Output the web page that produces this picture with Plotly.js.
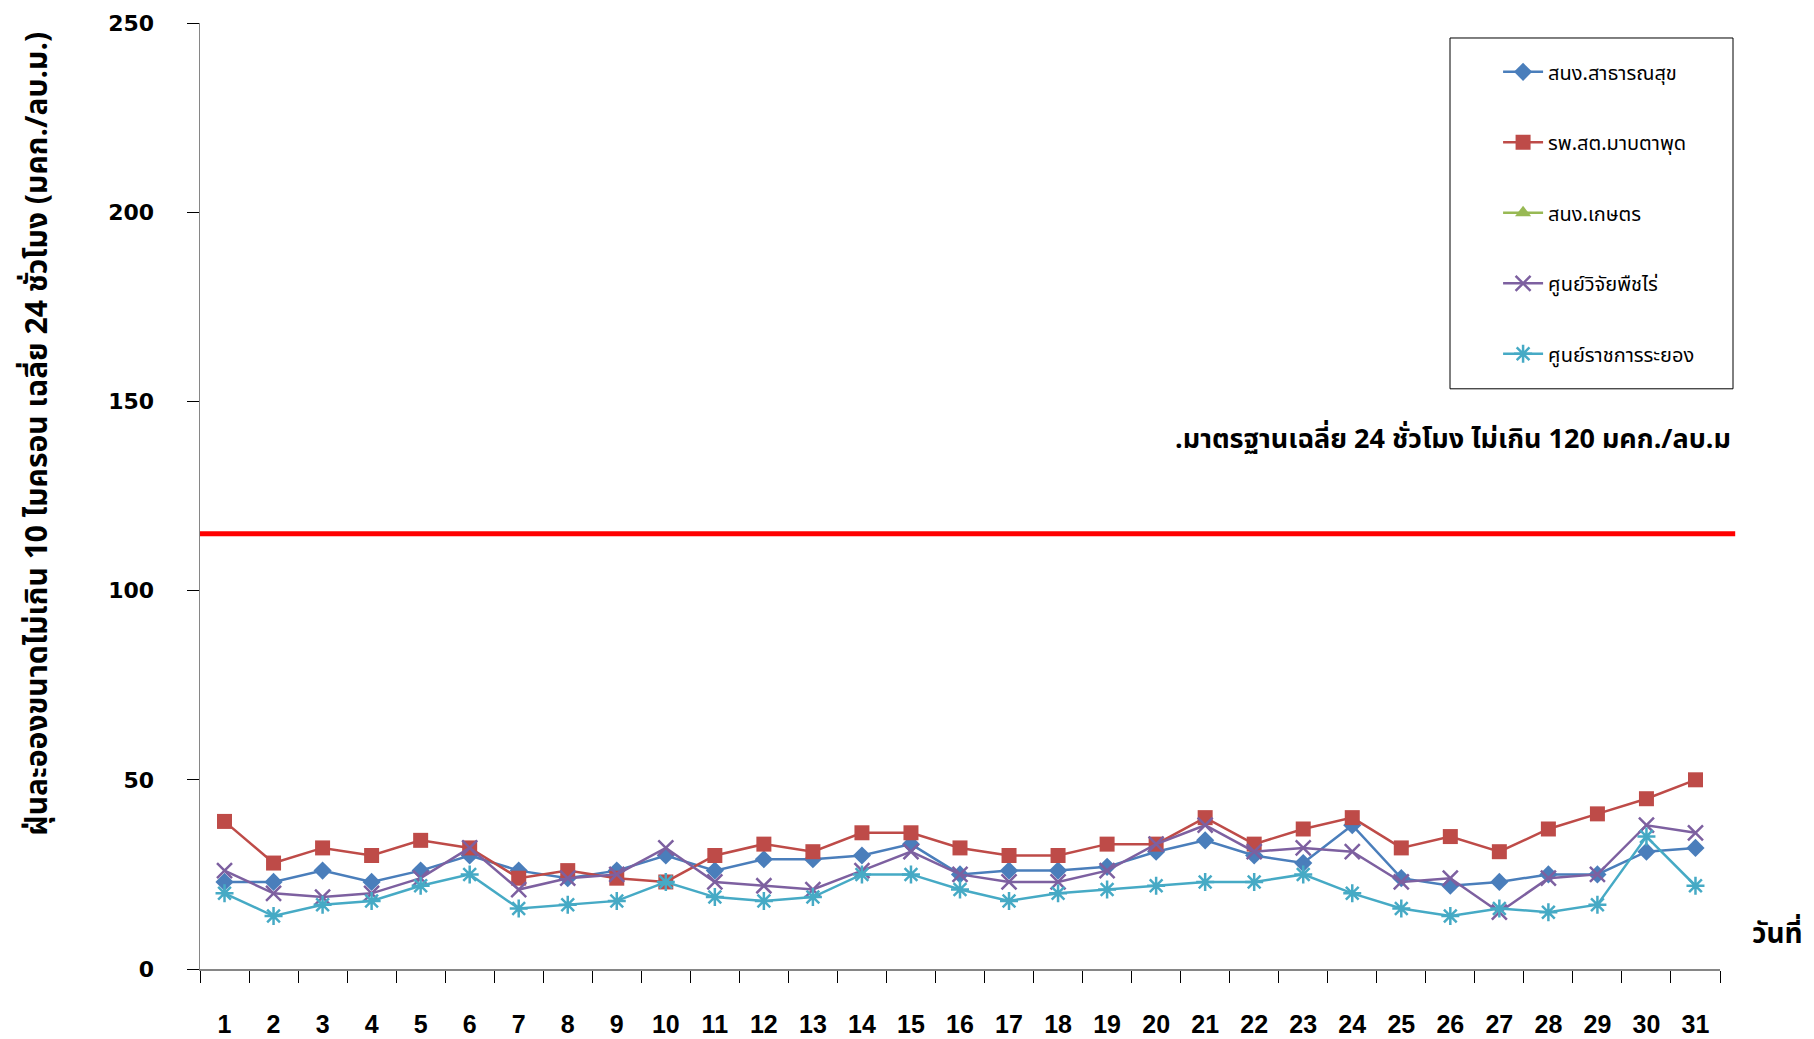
<!DOCTYPE html>
<html>
<head>
<meta charset="utf-8">
<script src="https://cdn.plot.ly/plotly-3.0.1.min.js"></script>
<style>html,body{margin:0;padding:0;background:#fff;}#chart{width:1814px;height:1039px;}</style>
</head>
<body>
<div id="chart"></div>
<script>
const days = ["1","2","3","4","5","6","7","8","9","10","11","12","13","14","15","16","17","18","19","20","21","22","23","24","25","26","27","28","29","30","31"];
const seriesNames = ["สนง.สาธารณสุข","รพ.สต.มาบตาพุด","สนง.เกษตร","ศูนย์วิจัยพืชไร่","ศูนย์ราชการระยอง"];
const healthOffice = [23,23,26,23,26,30,26,24,26,30,26,29,29,30,33,25,26,26,27,31,34,30,28,38,24,22,23,25,25,31,32];
const mapTaPhut = [39,28,32,30,34,32,24,26,24,23,30,33,31,36,36,32,30,30,33,33,40,33,37,40,32,35,31,37,41,45,50];
const agriOffice = [null,null,null,null,null,null,null,null,null,null,null,null,null,null,null,null,null,null,null,null,null,null,null,null,null,null,null,null,null,null,null];
const fieldCropCenter = [26,20,19,20,24,32,21,24,25,32,23,22,21,26,31,25,23,23,26,33,38,31,32,31,23,24,15,24,25,38,36];
const rayongGovCenter = [20,14,17,18,22,25,16,17,18,23,19,18,19,25,25,21,18,20,21,22,23,23,25,20,16,14,16,15,17,35,22];
const standardValue = 115;
const yTitle = "ฝุ่นละอองขนาดไม่เกิน 10 ไมครอน เฉลี่ย 24 ชั่วโมง (มคก./ลบ.ม.)";
const xTitle = "วันที่";
const standardLabel = ".มาตรฐานเฉลี่ย 24 ชั่วโมง ไม่เกิน 120 มคก./ลบ.ม";

const colors = ["#4A7EBB","#BE4B48","#98B954","#7D60A0","#46AAC5"];
const symbols = ["diamond","square","triangle-up","x-thin-open","asterisk-open"];
const sizes = [14,15,14,15,15];
const values = [healthOffice, mapTaPhut, agriOffice, fieldCropCenter, rayongGovCenter];
const thaiFont = "Noto Sans Thai, Tahoma, Loma, Garuda, sans-serif";

const traces = values.map((v,i)=>({
  type:"scatter", mode:"lines+markers", x:days, y:v, name:seriesNames[i],
  legendgroup:"g"+i,
  line:{color:colors[i], width:2.5},
  marker:{symbol:symbols[i], size:sizes[i], color:colors[i], line:{color:colors[i], width:(i>=3?2.5:0)}}
}));

const layout = {
  width:1814, height:1039,
  margin:{l:200, r:94, t:23, b:70},
  paper_bgcolor:"#fff", plot_bgcolor:"#fff",
  showlegend:true,
  legend:{x:0.854, y:0.969, xanchor:"left", yanchor:"top", bgcolor:"rgba(0,0,0,0)", borderwidth:0,
          font:{family:thaiFont, size:20, color:"#000"}, tracegroupgap:41.5, itemwidth:40},
  xaxis:{type:"category", range:[-0.5,30.5], showgrid:false, zeroline:false,
         showline:true, linecolor:"#868686", linewidth:1.5,
         ticks:"outside", tickson:"boundaries", ticklen:12, tickcolor:"#000", tickwidth:1,
         ticklabelstandoff:32,
         tickfont:{family:"Liberation Sans, Arial, sans-serif", size:25, color:"#000", weight:"bold"}},
  yaxis:{range:[0,250], dtick:50, showgrid:false, zeroline:false,
         showline:true, linecolor:"#868686", linewidth:1.5,
         ticks:"outside", ticklen:12, tickcolor:"#000", tickwidth:1,
         ticklabelstandoff:28,
         tickfont:{family:"DejaVu Sans, sans-serif", size:22, color:"#000", weight:"bold"}},
  shapes:[
    {type:"line", xref:"paper", yref:"y", x0:0, x1:1.01, y0:standardValue, y1:standardValue,
     line:{color:"#FF0000", width:5}},
    {type:"rect", xref:"paper", yref:"paper", x0:(1450-200)/1520, x1:(1733-200)/1520, y0:(969.5-389)/946.5, y1:(969.5-38)/946.5,
     line:{color:"#000", width:1}, fillcolor:"rgba(0,0,0,0)", layer:"below"}
  ],
  annotations:[
    {text:yTitle, xref:"paper", yref:"paper", x:(38-200)/1520, y:(969.5-434)/946.5, textangle:-90,
     showarrow:false, xanchor:"center", yanchor:"middle", font:{family:thaiFont, size:30, color:"#000", weight:"bold"}},
    {text:standardLabel, xref:"paper", yref:"paper", x:(1733-200)/1520, y:(969.5-440)/946.5,
     showarrow:false, xanchor:"right", yanchor:"middle", font:{family:thaiFont, size:27, color:"#000", weight:"bold"}},
    {text:xTitle, xref:"paper", yref:"paper", x:(1777-200)/1520, y:(969.5-935)/946.5,
     showarrow:false, xanchor:"center", yanchor:"middle", font:{family:thaiFont, size:28, color:"#000", weight:"bold"}}
  ]
};

Plotly.newPlot("chart", traces, layout, {staticPlot:true, displayModeBar:false});
</script>
</body>
</html>
